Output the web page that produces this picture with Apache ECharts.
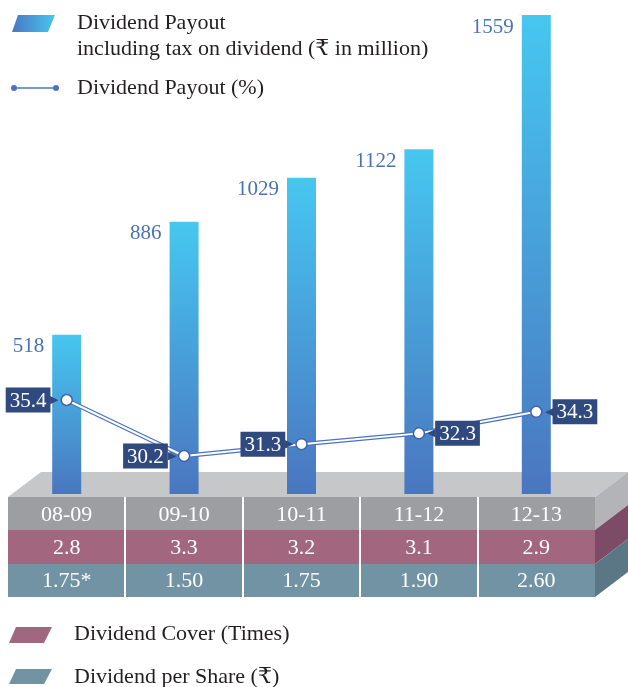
<!DOCTYPE html>
<html>
<head>
<meta charset="utf-8">
<script src="https://cdn.jsdelivr.net/npm/echarts@6/dist/echarts.min.js"></script>
<style>
  html, body { margin: 0; padding: 0; background: #fff; }
  #chart { width: 628px; height: 687px; }
</style>
</head>
<body>
<div id="chart"></div>
<script>
// data
const years = ['08-09', '09-10', '10-11', '11-12', '12-13']
const payoutAmount = [518, 886, 1029, 1122, 1559] // ₹ in million
const payoutPct = [35.4, 30.2, 31.3, 32.3, 34.3]
const dividendCover = ['2.8', '3.3', '3.2', '3.1', '2.9']
const dividendPerShare = ['1.75*', '1.50', '1.75', '1.90', '2.60']

const SERIF = '"Liberation Serif", "DejaVu Serif", serif'
const NAVY = '#30497f'
const BLUE = '#4a74c0'
const INK = '#231f20'

// platform box (front face spans the category axis)
const L = 8, R = 595, DX = 33, DY = 25
const TOP = 497, ROW1 = 530, ROW2 = 564, BOT = 597

function poly(points, fill, z) {
  return { type: 'polygon', z: z || 0, silent: true, shape: { points }, style: { fill } }
}
function txt(text, x, y) {
  return {
    type: 'text', z: 5, silent: true,
    style: { text, x, y, fill: INK, font: '22px ' + SERIF, verticalAlign: 'middle' }
  }
}

const platform = [
  poly([[L, TOP], [L + DX, TOP - DY], [R + DX, TOP - DY], [R, TOP]], '#c6c7c9'),
  poly([[R, TOP], [R + DX, TOP - DY], [R + DX, ROW1 - DY], [R, ROW1]], '#b3b4b7'),
  poly([[R, ROW1], [R + DX, ROW1 - DY], [R + DX, ROW2 - DY], [R, ROW2]], '#7d4b65'),
  poly([[R, ROW2], [R + DX, ROW2 - DY], [R + DX, BOT - DY], [R, BOT]], '#5b7684'),
  { type: 'rect', z: 0, silent: true, shape: { x: L, y: TOP, width: R - L, height: ROW1 - TOP }, style: { fill: '#9d9ea2' } },
  { type: 'rect', z: 0, silent: true, shape: { x: L, y: ROW1, width: R - L, height: ROW2 - ROW1 }, style: { fill: '#a3667f' } },
  { type: 'rect', z: 0, silent: true, shape: { x: L, y: ROW2, width: R - L, height: BOT - ROW2 }, style: { fill: '#7193a4' } }
]
const band = (R - L) / years.length
for (let i = 1; i < years.length; i++) {
  const x = Math.round(L + band * i)
  platform.push({ type: 'rect', z: 1, silent: true, shape: { x: x - 1, y: TOP, width: 2, height: BOT - TOP }, style: { fill: '#fff' } })
}

const legends = [
  poly([[18, 15], [55, 15], [48, 32], [12, 32]], new echarts.graphic.LinearGradient(0, 0, 1, 0, [
    { offset: 0, color: '#4a78c0' }, { offset: 1, color: '#47c6ef' }
  ]), 5),
  txt('Dividend Payout', 77, 23),
  txt('including tax on dividend (₹ in million)', 77, 49),
  { type: 'line', z: 5, silent: true, shape: { x1: 14, y1: 88, x2: 56, y2: 88 }, style: { stroke: BLUE, lineWidth: 1.5 } },
  { type: 'circle', z: 5, silent: true, shape: { cx: 14, cy: 88, r: 3 }, style: { fill: BLUE } },
  { type: 'circle', z: 5, silent: true, shape: { cx: 56, cy: 88, r: 3 }, style: { fill: BLUE } },
  txt('Dividend Payout (%)', 77, 88),
  poly([[16, 627], [52, 627], [44, 643], [9, 643]], '#a3667f', 5),
  txt('Dividend Cover (Times)', 74, 634),
  poly([[16, 669], [52, 669], [44, 684], [9, 684]], '#7193a4', 5),
  txt('Dividend per Share (₹)', 74, 677)
]

function rowAxis(data, offset) {
  return {
    type: 'category',
    data,
    gridIndex: 0,
    position: 'bottom',
    offset,
    z: 10,
    axisLine: { show: false },
    axisTick: { show: false },
    splitLine: { show: false },
    axisLabel: {
      interval: 0,
      color: '#fff',
      fontFamily: SERIF,
      fontSize: 22,
      margin: 21,
      verticalAlign: 'middle'
    }
  }
}

const labelSide = ['left', 'left', 'left', 'right', 'right']
const pctData = payoutPct.map((v, i) => ({
  value: v,
  label: {
    position: labelSide[i],
    formatter: labelSide[i] === 'left' ? '{v|' + v + '}{t|▶}' : '{t|◀}{v|' + v + '}'
  }
}))

const chart = echarts.init(document.getElementById('chart'))
chart.setOption({
  animation: false,
  grid: { left: L, right: 628 - R, top: 15, bottom: 687 - 494 },
  xAxis: [
    rowAxis(years, 0),
    rowAxis(dividendCover, 33),
    rowAxis(dividendPerShare, 66)
  ],
  yAxis: [
    { type: 'value', min: 0, max: 1559, show: false },
    { type: 'value', min: 26.67, max: 71.15, show: false }
  ],
  graphic: platform.concat(legends),
  series: [
    {
      type: 'bar',
      data: payoutAmount,
      barWidth: 29,
      z: 2,
      itemStyle: {
        color: new echarts.graphic.LinearGradient(0, 0, 0, 1, [
          { offset: 0, color: '#46c7f0' },
          { offset: 1, color: '#4a76bf' }
        ])
      },
      label: {
        show: true,
        position: [-8, 12],
        align: 'right',
        verticalAlign: 'middle',
        color: '#4a72b8',
        fontFamily: SERIF,
        fontSize: 21
      }
    },
    {
      type: 'line',
      yAxisIndex: 1,
      data: payoutPct,
      z: 3,
      symbol: 'none',
      lineStyle: { color: BLUE, width: 4.5 }
    },
    {
      type: 'line',
      yAxisIndex: 1,
      data: pctData,
      z: 4,
      symbol: 'circle',
      symbolSize: 11,
      lineStyle: { color: '#fff', width: 2 },
      itemStyle: { color: '#fff', borderColor: '#3f63ab', borderWidth: 1.5 },
      label: {
        show: true,
        distance: 2,
        rich: {
          v: {
            color: '#fff',
            backgroundColor: NAVY,
            fontFamily: SERIF,
            fontSize: 21,
            padding: [3, 4, 1, 4]
          },
          t: {
            color: NAVY,
            fontSize: 11,
            verticalAlign: 'middle'
          }
        }
      }
    }
  ]
})
</script>
</body>
</html>
